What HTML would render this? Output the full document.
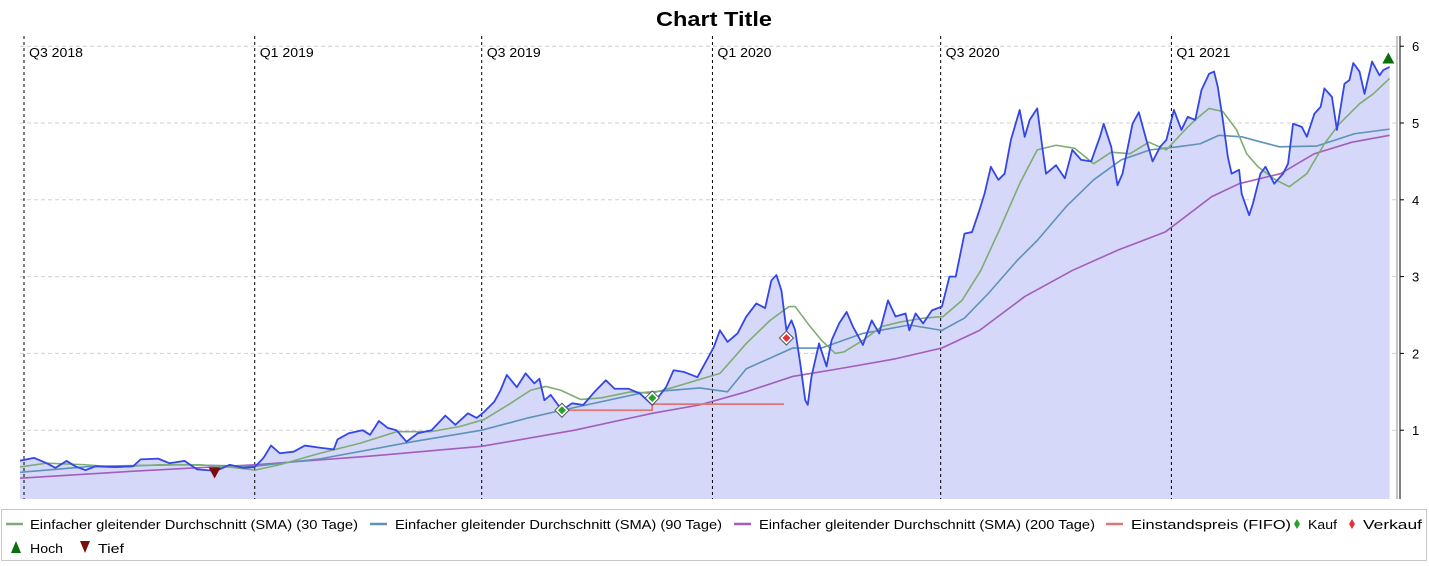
<!DOCTYPE html>
<html><head><meta charset="utf-8"><style>
body{margin:0;background:#fff;width:1429px;height:566px;overflow:hidden;font-family:"Liberation Sans",sans-serif}
svg{display:block}
</style></head><body>
<svg id="c" width="1429" height="566"></svg>
<script>
const quarterLabels=["Q3 2018","Q1 2019","Q3 2019","Q1 2020","Q3 2020","Q1 2021"];
const quarterDays=[0,184,365,549,731,915];
const yTicks=[1,2,3,4,5,6];
const priceDays=[-4,8,18,25,34,41,49,57,73,87,93,107,116,128,138,153,164,175,184,191,197,204,215,224,237,247,250,259,270,276,283,290,297,305,314,325,336,344,354,361,367,375,380,385,393,400,407,411,415,420,429,437,446,455,464,471,482,491,501,512,518,526,537,543,550,555,561,569,576,584,591,596,600,604,606,608,612,615,619,623,625,628,634,640,644,650,656,661,669,676,682,689,695,703,706,711,717,724,732,738,743,750,756,762,766,771,777,782,787,794,798,802,808,812,815,823,830,836,843,851,858,861,867,872,876,884,889,895,900,906,911,917,923,928,934,939,945,949,952,956,960,963,969,971,977,980,986,990,997,1004,1008,1012,1019,1023,1029,1034,1037,1043,1047,1053,1057,1060,1065,1069,1075,1081,1084,1089];
const priceValues=[0.6,0.64,0.57,0.51,0.6,0.53,0.48,0.53,0.52,0.53,0.62,0.63,0.57,0.6,0.49,0.47,0.55,0.51,0.52,0.64,0.8,0.7,0.72,0.8,0.77,0.75,0.88,0.96,1.0,0.94,1.12,1.03,1.0,0.85,0.96,1.0,1.19,1.07,1.22,1.16,1.24,1.37,1.52,1.72,1.56,1.74,1.61,1.67,1.39,1.46,1.26,1.35,1.33,1.5,1.65,1.54,1.54,1.48,1.33,1.56,1.78,1.76,1.69,1.87,2.08,2.3,2.15,2.26,2.48,2.65,2.59,2.95,3.02,2.82,2.56,2.3,2.43,2.3,1.87,1.39,1.33,1.7,2.13,1.83,2.17,2.39,2.54,2.35,2.11,2.43,2.26,2.69,2.48,2.52,2.3,2.52,2.39,2.56,2.61,3.0,3.0,3.56,3.58,3.87,4.08,4.43,4.26,4.34,4.78,5.17,4.82,5.04,5.19,4.69,4.34,4.45,4.28,4.65,4.52,4.5,4.82,4.99,4.69,4.19,4.34,4.99,5.14,4.78,4.5,4.69,4.78,5.17,4.91,5.08,5.04,5.43,5.64,5.67,5.47,5.04,4.56,4.34,4.39,4.08,3.8,3.95,4.34,4.43,4.21,4.34,4.47,4.99,4.95,4.82,5.12,5.21,5.45,5.34,4.91,5.51,5.56,5.78,5.67,5.38,5.8,5.62,5.69,5.73];
const sma30Days=[-4,18,49,73,108,140,164,184,204,236,268,297,324,348,367,388,404,416,428,444,460,484,500,516,555,561,576,595,610,615,625,636,647,654,669,684,699,718,733,748,763,779,794,808,823,838,853,867,882,897,911,927,934,945,956,967,975,984,998,1009,1023,1037,1049,1065,1076,1089];
const sma30Values=[0.52,0.57,0.55,0.52,0.55,0.55,0.52,0.48,0.55,0.7,0.83,0.98,0.98,1.05,1.14,1.35,1.52,1.57,1.52,1.4,1.42,1.5,1.48,1.55,1.74,1.85,2.13,2.43,2.61,2.61,2.39,2.17,2.0,2.02,2.17,2.35,2.41,2.46,2.48,2.69,3.08,3.65,4.21,4.65,4.71,4.67,4.47,4.62,4.6,4.75,4.65,4.93,5.04,5.19,5.15,4.91,4.6,4.43,4.26,4.17,4.34,4.73,4.99,5.25,5.38,5.58];
const sma90Days=[-4,54,128,184,237,310,365,402,429,494,539,561,576,613,636,669,706,732,750,769,792,808,831,853,875,898,920,938,953,971,1001,1031,1061,1089];
const sma90Values=[0.45,0.53,0.55,0.53,0.63,0.85,1.0,1.16,1.26,1.49,1.55,1.5,1.8,2.07,2.07,2.26,2.37,2.3,2.46,2.78,3.21,3.47,3.91,4.26,4.52,4.65,4.69,4.73,4.84,4.82,4.69,4.7,4.86,4.92];
const sma200Days=[-4,91,184,274,365,439,501,539,576,613,650,695,732,762,798,836,873,910,947,969,1002,1029,1059,1089];
const sma200Values=[0.375,0.47,0.55,0.66,0.79,1.0,1.22,1.33,1.5,1.7,1.8,1.93,2.07,2.3,2.74,3.08,3.35,3.58,4.04,4.21,4.34,4.6,4.75,4.84];
const fifoDays=[429,501,501,606];
const fifoValues=[1.26,1.26,1.34,1.34];
const buyDays=[429,501];
const buyValues=[1.26,1.42];
const sellDays=[608];
const sellValues=[2.2];
const highDay=1088, highValue=5.84;
const lowDay=152, lowValue=0.45;

const NS="http://www.w3.org/2000/svg";
const svg=document.getElementById('c');
const X=d=>24+d*1.254;
const Y=v=>507-76.8*v;
const L=20,R=1397,T=36,B=499;
function mk(tag,attrs,parent){const e=document.createElementNS(NS,tag);for(const k in attrs)e.setAttribute(k,attrs[k]);(parent||svg).appendChild(e);return e;}

const title=mk('text',{x:714,y:26,'text-anchor':'middle','font-size':20,'font-weight':'bold',fill:'#000',textLength:116,lengthAdjust:'spacingAndGlyphs'});
title.textContent='Chart Title';



const defs=mk('defs',{});
const cp=mk('clipPath',{id:'clip'},defs);mk('rect',{x:L,y:T,width:R-L,height:B-T},cp);
const plot=mk('g',{'clip-path':'url(#clip)'});



yTicks.forEach(t=>{
  const g=mk('line',{x1:L,x2:R,y1:Y(t),y2:Y(t),stroke:'#cfcfcf','stroke-dasharray':'4,3'},plot);
  
  
});

let pts=priceDays.map((d,i)=>X(d)+','+Y(priceValues[i]));
const area=mk('polygon',{points:X(priceDays[0])+','+B+' '+pts.join(' ')+' '+X(priceDays[priceDays.length-1])+','+B,fill:'#d5d8f8'},plot);



quarterDays.forEach((d,i)=>{
  const l=mk('line',{x1:X(d),x2:X(d),y1:T,y2:B,stroke:'#000','stroke-dasharray':'3,3'},plot);
  
  
  const t=mk('text',{x:X(d)+5,y:57,'font-size':13,fill:'#000',textLength:54,lengthAdjust:'spacingAndGlyphs'},plot);
  t.textContent=quarterLabels[i];
  
  
});

function line(days,vals,color,name,w){
  const p=mk('polyline',{points:days.map((d,i)=>X(d)+','+Y(vals[i])).join(' '),fill:'none',stroke:color,'stroke-width':w,'stroke-linejoin':'round'},plot);
  
  
}
line(sma200Days,sma200Values,'#a45cbd','sma200-line',1.6);
line(sma90Days,sma90Values,'#5e92b8','sma90-line',1.6);
line(sma30Days,sma30Values,'#7fac73','sma30-line',1.6);
line(fifoDays,fifoValues,'#e07575','fifo-line',1.8);
line(priceDays,priceValues,'#3346e6','price-line',1.8);

function diamond(d,v,col,name){
  const x=X(d),y=Y(v);
  const g=mk('polygon',{points:`${x},${y-7} ${x+7},${y} ${x},${y+7} ${x-7},${y}`,fill:'#fff',stroke:'#555'},plot);
  
  
  const h=mk('polygon',{points:`${x},${y-4} ${x+4},${y} ${x},${y+4} ${x-4},${y}`,fill:col},plot);
  
  
}
buyDays.forEach((d,i)=>diamond(d,buyValues[i],'#22a32a','buy-marker'));
sellDays.forEach((d,i)=>diamond(d,sellValues[i],'#e8303a','sell-marker'));
{const x=X(highDay),y=Y(highValue);
 const h=mk('polygon',{points:`${x},${y-6} ${x+6},${y+5} ${x-6},${y+5}`,fill:'#0a6e0a'});
 
 
 const x2=X(lowDay),y2=Y(lowValue);
 const lo=mk('polygon',{points:`${x2-6},${y2-5} ${x2+6},${y2-5} ${x2},${y2+6}`,fill:'#7a0c0c'});
 
 }

const ax=mk('line',{x1:1400,x2:1400,y1:T,y2:B,stroke:'#000'});


yTicks.forEach(t=>{
  const tk=mk('line',{x1:1400,x2:1404,y1:Y(t),y2:Y(t),stroke:'#000'});
  
  
  const tl=mk('text',{x:1412,y:Y(t)+5,'font-size':13,fill:'#000'});
  tl.textContent=t;
  
  
});
const rb=mk('line',{x1:1397,x2:1397,y1:T,y2:B,stroke:'#888'});



const lg=mk('g',{});


const lb=mk('rect',{x:1.5,y:509.5,width:1425,height:51,fill:'#fff',stroke:'#c8c8c8'},lg);


function lline(x,y,col,label,tx,len,name){
  const l=mk('line',{x1:x,x2:x+17,y1:y,y2:y,stroke:col,'stroke-width':2.5},lg);
  
  
  const t=mk('text',{x:tx,y:y+5,'font-size':13,fill:'#000',textLength:len,lengthAdjust:'spacingAndGlyphs'},lg);
  t.textContent=label;
  
  
}
lline(6,524,'#7fac73','Einfacher gleitender Durchschnitt (SMA) (30 Tage)',30,328,'legend-sma30');
lline(370,524,'#5e92b8','Einfacher gleitender Durchschnitt (SMA) (90 Tage)',395,327,'legend-sma90');
lline(734,524,'#a45cbd','Einfacher gleitender Durchschnitt (SMA) (200 Tage)',759,336,'legend-sma200');
lline(1106,524,'#e07575','Einstandspreis (FIFO)',1131,160,'legend-fifo');
function ltext(x,label,y,len,name){const t=mk('text',{x:x,y:y,'font-size':13,fill:'#000',textLength:len,lengthAdjust:'spacingAndGlyphs'},lg);t.textContent=label;
  
  }
{const s=mk('polygon',{points:'1297,519 1300,524 1297,529 1294,524',fill:'#22a32a'},lg);
 
 
 ltext(1308,'Kauf',529,29,'legend-buy');
 const s2=mk('polygon',{points:'1352,519 1355,524 1352,529 1349,524',fill:'#e8303a'},lg);
 
 
 ltext(1363,'Verkauf',529,59,'legend-sell');
 const s3=mk('polygon',{points:'16,541 21,553 11,553',fill:'#0a6e0a'},lg);
 
 
 ltext(30,'Hoch',553,33,'legend-high');
 const s4=mk('polygon',{points:'80,541 90,541 85,553',fill:'#7a0c0c'},lg);
 
 
 ltext(98,'Tief',553,26,'legend-low');}
</script>
</body></html>
